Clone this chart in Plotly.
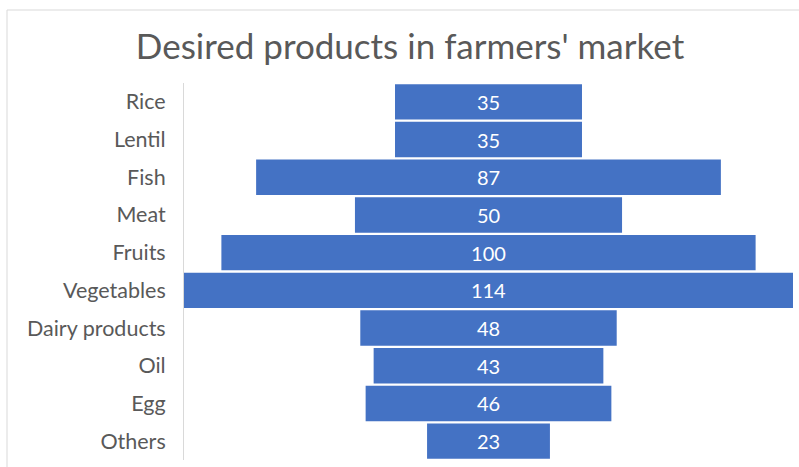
import plotly.graph_objects as go

# Survey results: desired products in a farmers' market
categories = ["Rice", "Lentil", "Fish", "Meat", "Fruits", "Vegetables",
              "Dairy products", "Oil", "Egg", "Others"]
counts = [35, 35, 87, 50, 100, 114, 48, 43, 46, 23]

W, H = 799, 467
L, R, T, B = 184, 6, 83, 7
pw = W - L - R
ph = H - T - B

half = max(counts) / 2

fig = go.Figure(go.Funnel(
    y=categories,
    x=counts,
    textinfo="value",
    textposition="inside",
    insidetextanchor="middle",
    textfont=dict(family="Lato, Carlito, sans-serif", size=20, color="white"),
    marker=dict(color="#4472C4", line=dict(color="white", width=0)),
    connector=dict(visible=False),
    hoverinfo="y+x",
))

def px_x(p):
    return (p - L) / pw

def px_y(p):
    return (H - B - p) / ph

fig.update_layout(
    width=W,
    height=H,
    margin=dict(l=L, r=R, t=T, b=B),
    paper_bgcolor="white",
    plot_bgcolor="white",
    funnelgap=0.06,
    showlegend=False,
    title=dict(
        text="Desired products in farmers' market",
        x=410 / W, xanchor="center",
        y=1 - 47 / H, yanchor="middle",
        font=dict(family="Lato, Carlito, sans-serif", size=35, color="#595959"),
    ),
    xaxis=dict(range=[-half, half], visible=False, fixedrange=True),
    yaxis=dict(
        categoryorder="array",
        categoryarray=categories,
        autorange="reversed",
        showline=True,
        linecolor="#D9D9D9",
        linewidth=1,
        ticks="",
        ticklabelstandoff=13,
        tickfont=dict(family="Lato, Carlito, sans-serif", size=21.5, color="#595959"),
        showgrid=False,
        zeroline=False,
    ),
    shapes=[
        # outer chart frame (top and left edges visible)
        dict(type="line", xref="paper", yref="paper",
             x0=px_x(7), x1=px_x(W + 5), y0=px_y(10), y1=px_y(10),
             line=dict(color="#D9D9D9", width=1)),
        dict(type="line", xref="paper", yref="paper",
             x0=px_x(7), x1=px_x(7), y0=px_y(10), y1=px_y(H + 5),
             line=dict(color="#D9D9D9", width=1)),
    ],
)

fig.write_html("out.html")
